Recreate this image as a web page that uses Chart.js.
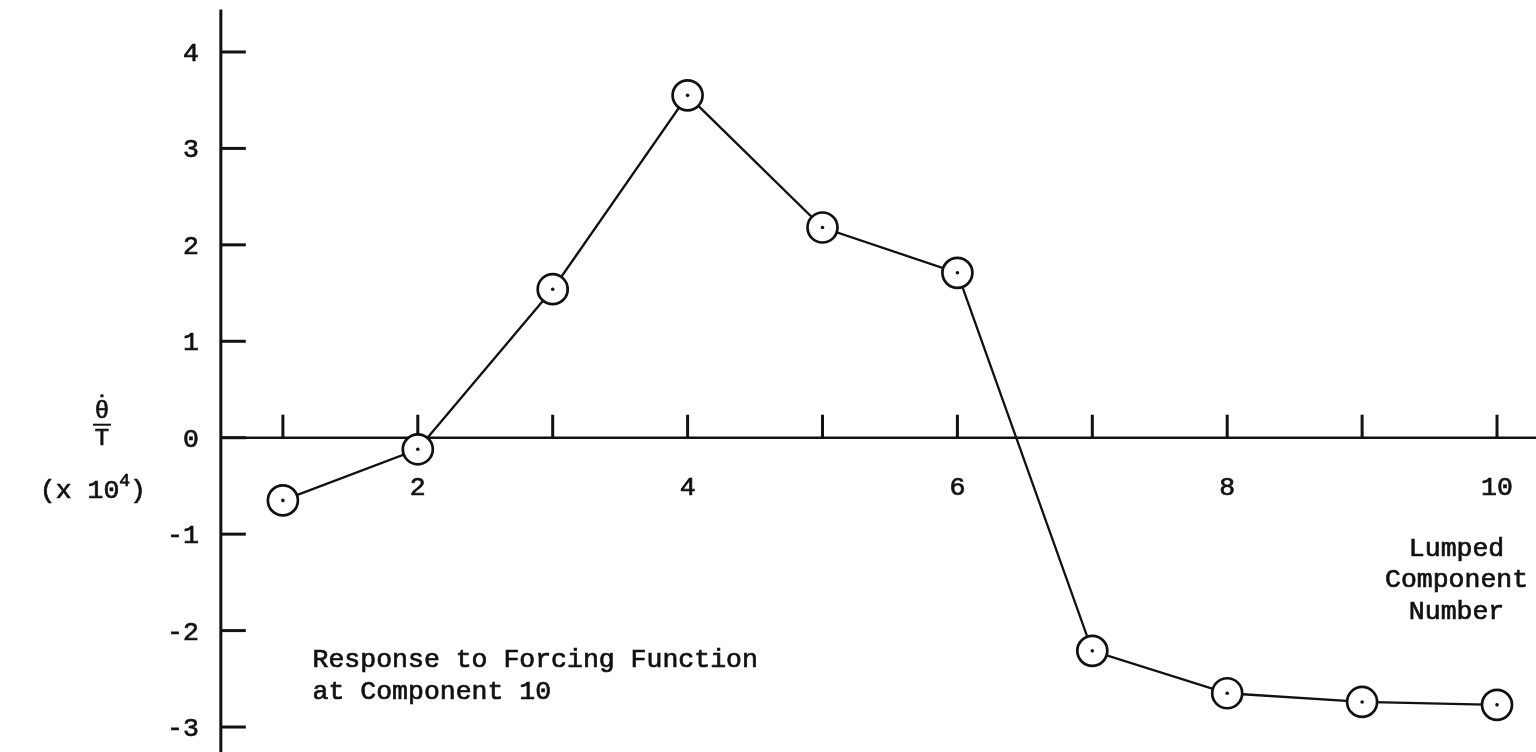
<!DOCTYPE html>
<html>
<head>
<meta charset="utf-8">
<script src="https://cdn.jsdelivr.net/npm/chart.js@4"></script>
<style>
  html, body { margin: 0; padding: 0; background: #fff; }
  canvas { display: block; }
</style>
</head>
<body>
<canvas id="c" width="1536" height="752"></canvas>
<script>
// Lumped component response data
const componentNumbers = [1, 2, 3, 4, 5, 6, 7, 8, 9, 10];
const responseValues = [-0.65, -0.12, 1.54, 3.55, 2.18, 1.71, -2.21, -2.65, -2.74, -2.77];
const xTickValues = [1, 2, 3, 4, 5, 6, 7, 8, 9, 10];
const xTickLabels = ['', '2', '', '4', '', '6', '', '8', '', '10'];
const yTickValues = [-3, -2, -1, 0, 1, 2, 3, 4];
const yTickLabels = ['-3', '-2', '-1', '0', '1', '2', '3', '4'];
const noteLines = ['Response to Forcing Function', 'at Component 10'];
const xTitleLines = ['Lumped', 'Component', 'Number'];

const FONT = '"Liberation Mono", "DejaVu Sans Mono", monospace';
const INK = '#111';

const points = componentNumbers.map((x, i) => ({ x: x, y: responseValues[i] }));

// typewriter-like text: fill plus a hairline stroke for weight
function typeText(ctx, s, x, y) {
  ctx.fillText(s, x, y);
  ctx.strokeText(s, x, y);
}

// Axes, ticks and captions placed through the chart scales
const axesPlugin = {
  id: 'typedAxes',
  beforeDatasetsDraw(chart) {
    const ctx = chart.ctx;
    const xs = chart.scales.x;
    const ys = chart.scales.y;
    const axisX = xs.getPixelForValue(0.54);
    const axisY = ys.getPixelForValue(0);
    ctx.save();
    ctx.strokeStyle = INK;
    ctx.fillStyle = INK;
    ctx.lineCap = 'butt';

    // vertical axis
    ctx.lineWidth = 3;
    ctx.beginPath();
    ctx.moveTo(axisX, ys.getPixelForValue(4.44));
    ctx.lineTo(axisX, chart.height);
    ctx.stroke();

    // horizontal axis
    ctx.lineWidth = 2.5;
    ctx.beginPath();
    ctx.moveTo(axisX, axisY);
    ctx.lineTo(chart.width, axisY);
    ctx.stroke();

    // y ticks
    yTickValues.forEach((v) => {
      const py = ys.getPixelForValue(v);
      ctx.lineWidth = 3;
      ctx.beginPath();
      ctx.moveTo(axisX, py);
      ctx.lineTo(axisX + 25, py);
      ctx.stroke();
    });

    // x ticks
    xTickValues.forEach((v) => {
      const px = xs.getPixelForValue(v);
      ctx.lineWidth = 3;
      ctx.beginPath();
      ctx.moveTo(px, axisY - 23);
      ctx.lineTo(px, axisY);
      ctx.stroke();
    });

    ctx.font = '26.5px ' + FONT;
    ctx.lineWidth = 0.7;
    ctx.textBaseline = 'middle';

    // y tick labels
    ctx.textAlign = 'right';
    yTickValues.forEach((v, i) => {
      typeText(ctx, yTickLabels[i], axisX - 22, ys.getPixelForValue(v) + 2);
    });

    // x tick labels
    ctx.textAlign = 'center';
    xTickValues.forEach((v, i) => {
      if (xTickLabels[i]) typeText(ctx, xTickLabels[i], xs.getPixelForValue(v), axisY + 50);
    });

    // x axis title, right side
    const tx = xs.getPixelForValue(9.7);
    xTitleLines.forEach((t, i) => {
      typeText(ctx, t, tx, ys.getPixelForValue(-1.15) + i * 31.5);
    });

    // note
    ctx.textAlign = 'left';
    const nx = xs.getPixelForValue(1.22);
    noteLines.forEach((t, i) => {
      typeText(ctx, t, nx, ys.getPixelForValue(-2.31) + i * 32);
    });

    // y axis title: theta-dot over T, scaled by 10^4
    const lx = 102;
    ctx.textAlign = 'center';
    ctx.font = '24px ' + FONT;
    typeText(ctx, '\u03B8', lx, axisY - 26);
    // dot above theta, centred on a chosen height
    ctx.textBaseline = 'alphabetic';
    const dm = ctx.measureText('\u02D9');
    const dotY = axisY - 42;
    const dotBase = dotY + (dm.actualBoundingBoxAscent - dm.actualBoundingBoxDescent) / 2;
    typeText(ctx, '\u02D9', lx, dotBase);
    ctx.textBaseline = 'middle';
    ctx.lineWidth = 2;
    ctx.beginPath();
    ctx.moveTo(lx - 9, axisY - 13);
    ctx.lineTo(lx + 9, axisY - 13);
    ctx.stroke();
    ctx.lineWidth = 0.7;
    typeText(ctx, 'T', lx, axisY + 1);

    ctx.font = '26.5px ' + FONT;
    ctx.textAlign = 'left';
    ctx.textBaseline = 'alphabetic';
    const base = axisY + 60;
    const s1 = '(x 10';
    const w1 = ctx.measureText(s1).width;
    ctx.font = '18px ' + FONT;
    const w2 = ctx.measureText('4').width;
    ctx.font = '26.5px ' + FONT;
    const w3 = ctx.measureText(')').width;
    const startX = 146 - (w1 + w2 + w3);
    typeText(ctx, s1, startX, base);
    ctx.font = '18px ' + FONT;
    typeText(ctx, '4', startX + w1, base - 12);
    ctx.font = '26.5px ' + FONT;
    typeText(ctx, ')', startX + w1 + w2, base);

    ctx.restore();
  }
};

new Chart(document.getElementById('c'), {
  type: 'line',
  data: {
    datasets: [
      {
        data: points,
        borderColor: INK,
        borderWidth: 2.3,
        tension: 0,
        pointRadius: 15,
        pointBorderWidth: 2.7,
        pointBorderColor: INK,
        pointBackgroundColor: '#fff',
        order: 2
      },
      {
        data: points,
        showLine: false,
        pointRadius: 1.8,
        pointBorderWidth: 0,
        pointBackgroundColor: INK,
        order: 1
      }
    ]
  },
  options: {
    responsive: false,
    animation: false,
    devicePixelRatio: 1,
    layout: { padding: 0, autoPadding: false },
    plugins: { legend: { display: false }, tooltip: { enabled: false } },
    scales: {
      x: { type: 'linear', min: -1.097, max: 10.289, display: false },
      y: { type: 'linear', min: -3.259, max: 4.539, display: false }
    }
  },
  plugins: [axesPlugin]
});
</script>
</body>
</html>
